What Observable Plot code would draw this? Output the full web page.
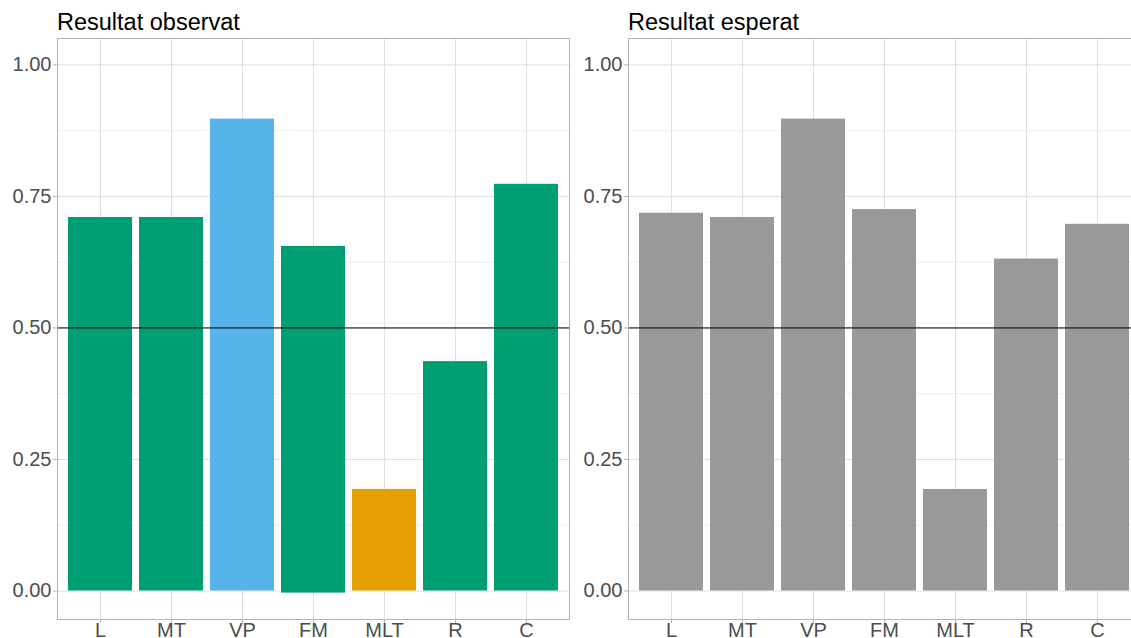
<!DOCTYPE html>
<html>
<head>
<meta charset="utf-8">
<script src="https://cdn.jsdelivr.net/npm/d3@7"></script>
<script src="https://cdn.jsdelivr.net/npm/@observablehq/plot@0.6"></script>
<style>
  html, body { margin: 0; padding: 0; background: white; }
  #wrap { position: relative; width: 1131px; height: 638px; overflow: hidden; background: white; }
  .panel { position: absolute; top: 0; }
  .title { position: absolute; top: 11px; font-family: "Liberation Sans", Arial, sans-serif; font-size: 23.5px; line-height: 23px; color: #000; white-space: nowrap; }
</style>
</head>
<body>
<div id="wrap"></div>
<script>
// ---- data ----
const categories = ["L", "MT", "VP", "FM", "MLT", "R", "C"];
const observedValues = [0.710, 0.710, 0.897, 0.655, 0.193, 0.436, 0.773];
const observedBase = [0, 0, 0, -0.004, 0, 0, 0];
const observedGroup = ["igual", "igual", "alt", "igual", "baix", "igual", "igual"];
const expectedValues = [0.718, 0.710, 0.897, 0.725, 0.193, 0.631, 0.697];
const expectedBase = [0, 0, 0, 0, 0, 0, 0];
const expectedGroup = ["esperat", "esperat", "esperat", "esperat", "esperat", "esperat", "esperat"];
const yTicks = [0, 0.25, 0.5, 0.75, 1.0];
const yMinor = [0.125, 0.375, 0.625, 0.875];
const referenceLine = [0.5];
const titles = ["Resultat observat", "Resultat esperat"];

const groupDomain = ["igual", "alt", "baix", "esperat"];
const groupRange = ["#009E73", "#56B4E9", "#E69F00", "#999999"];

function makePanel(values, base, groups) {
  const data = categories.map((c, i) => ({cat: c, y1: base[i], y2: values[i], g: groups[i]}));
  return Plot.plot({
    width: 570,
    height: 638,
    marginLeft: 57,
    marginRight: 1,
    marginTop: 38,
    marginBottom: 19,
    style: {fontFamily: '"Liberation Sans", Arial, sans-serif', fontSize: "20px", background: "white", overflow: "visible"},
    x: {type: "band", domain: categories, paddingInner: 0.1, paddingOuter: 0.15, align: 0.5, label: null},
    y: {domain: [-0.0542, 1.0502], label: null},
    color: {domain: groupDomain, range: groupRange},
    marks: [
      Plot.gridY(yMinor, {stroke: "#ececec", strokeOpacity: 1, strokeWidth: 0.8}),
      Plot.gridY(yTicks, {stroke: "#e0e0e0", strokeOpacity: 1, strokeWidth: 1}),
      Plot.gridX(categories, {stroke: "#e0e0e0", strokeOpacity: 1, strokeWidth: 1}),
      Plot.barY(data, {x: "cat", y1: "y1", y2: "y2", fill: "g", inset: 0}),
      Plot.ruleY(referenceLine, {stroke: "black", strokeWidth: 1}),
      Plot.frame({stroke: "#b3b3b3", strokeWidth: 1}),
      Plot.axisY(yTicks, {tickFormat: d3.format(".2f"), tickSize: 4, tickPadding: 2, stroke: "#b3b3b3", fill: "#4d4d4d", label: null}),
      Plot.axisX(categories, {tickSize: 4, tickPadding: -1, stroke: "#b3b3b3", fill: "#4d4d4d", label: null})
    ]
  });
}

const wrap = document.getElementById("wrap");
const panels = [
  {values: observedValues, base: observedBase, groups: observedGroup, left: 0, titleLeft: 57},
  {values: expectedValues, base: expectedBase, groups: expectedGroup, left: 571, titleLeft: 628}
];
panels.forEach((p, i) => {
  const svg = makePanel(p.values, p.base, p.groups);
  svg.classList.add("panel");
  svg.style.left = p.left + "px";
  wrap.appendChild(svg);
  const t = document.createElement("div");
  t.className = "title";
  t.style.left = p.titleLeft + "px";
  t.textContent = titles[i];
  wrap.appendChild(t);
});
</script>
</body>
</html>
